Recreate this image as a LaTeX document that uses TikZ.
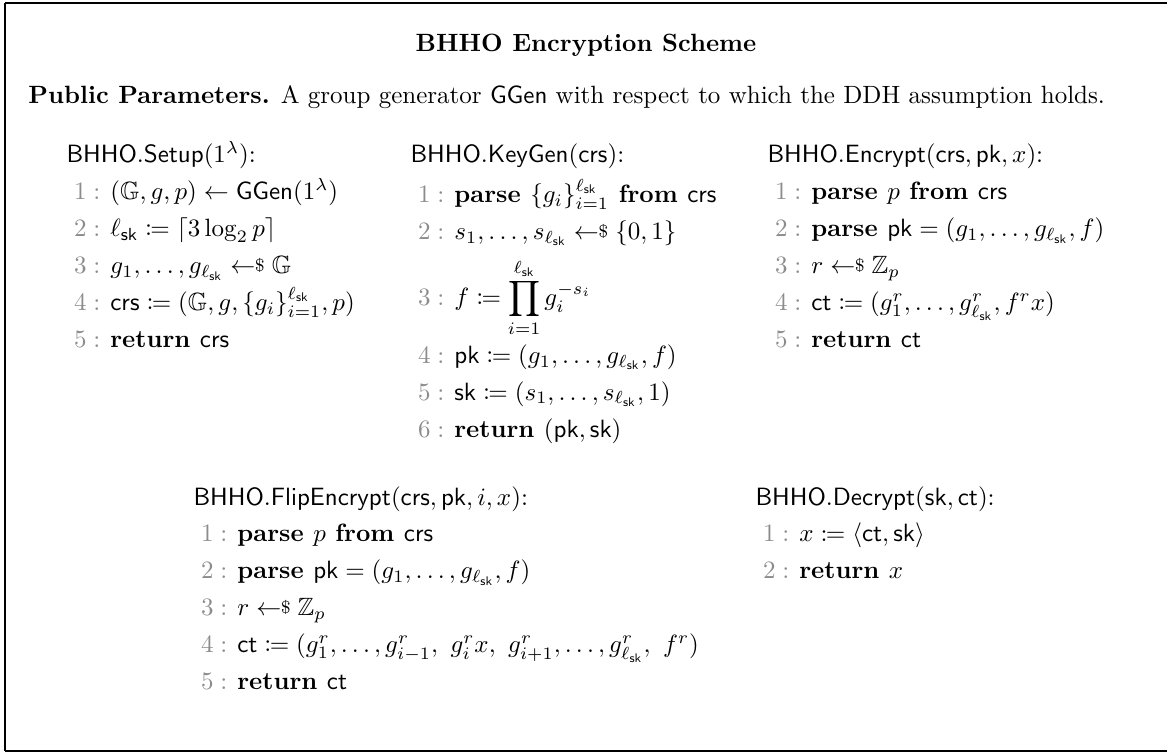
\documentclass[tikz,border=0pt]{standalone}
\usepackage{amsmath, amssymb, amstext}
\usepackage{mathtools}
\usepackage{xcolor}
\usepackage{tikz}

\newcommand{\samp}{\mathrel{\leftarrow\hspace*{-3pt}\raisebox{.75pt}{$\scriptstyle\$$}}}
\newcommand{\lnum}[1]{\hspace{3pt}\textcolor{black!45}{$#1:$}\hspace{4pt}}
\newcommand{\lsk}{\ell_{\mathsf{sk}}}
\renewcommand{\arraystretch}{1.23}

\begin{document}
\begin{tikzpicture}[x=0.4pt,y=-0.4pt,
  algo/.style={anchor=base west, inner sep=0pt},
  frame/.style={draw=black, line width=0.8pt}]

\useasboundingbox (0,0) rectangle (1167,752);

%% frame
\draw[frame] (5,3.5) -- (1190,3.5);
\draw[frame] (5,3.5) -- (5,751);
\draw[frame] (5,751) -- (1190,751);

%% heading
\node[anchor=base, inner sep=0pt, font=\bfseries] (title) at (586,52) {BHHO Encryption Scheme};
\node[algo] (params) at (28,104) {\textbf{Public Parameters.} A group generator $\mathsf{GGen}$ with respect to which the DDH assumption holds.};

%% first row

\node[algo] (setup) at (66,163) {\begin{tabular}[t]{@{}l@{}}
$\mathsf{BHHO.Setup}(1^\lambda)$:\\
\lnum{1}$(\mathbb{G}, g, p) \leftarrow \mathsf{GGen}(1^\lambda)$\\
\lnum{2}$\lsk \coloneqq \lceil 3\log_2 p\rceil$\\
\lnum{3}$g_1, \ldots, g_{\lsk} \samp \mathbb{G}$\\
\lnum{4}$\mathsf{crs} \coloneqq (\mathbb{G}, g, \{g_i\}_{i=1}^{\lsk}, p)$\\
\lnum{5}$\textbf{return } \mathsf{crs}$
\end{tabular}};

\node[algo] (keygen) at (410,163) {\begin{tabular}[t]{@{}l@{}}
$\mathsf{BHHO.KeyGen}(\mathsf{crs})$:\\[1pt]
\lnum{1}$\textbf{parse } \{g_i\}_{i=1}^{\lsk} \textbf{ from } \mathsf{crs}$\\
\lnum{2}$s_1, \ldots, s_{\lsk} \samp \{0,1\}$\\[3.5pt]
\lnum{3}$f \coloneqq \displaystyle\prod_{i=1}^{\lsk} g_i^{-s_i}$\\[2pt]
\lnum{4}$\mathsf{pk} \coloneqq (g_1, \ldots, g_{\lsk}, f)$\\
\lnum{5}$\mathsf{sk} \coloneqq (s_1, \ldots, s_{\lsk}, 1)$\\
\lnum{6}$\textbf{return } (\mathsf{pk}, \mathsf{sk})$
\end{tabular}};

\node[algo] (encrypt) at (767,163) {\begin{tabular}[t]{@{}l@{}}
$\mathsf{BHHO.Encrypt}(\mathsf{crs}, \mathsf{pk}, x)$:\\
\lnum{1}$\textbf{parse } p \textbf{ from } \mathsf{crs}$\\
\lnum{2}$\textbf{parse } \mathsf{pk} = (g_1, \ldots, g_{\lsk}, f)$\\
\lnum{3}$r \samp \mathbb{Z}_p$\\
\lnum{4}$\mathsf{ct} \coloneqq (g_1^r, \ldots, g_{\lsk}^r, f^r x)$\\
\lnum{5}$\textbf{return } \mathsf{ct}$
\end{tabular}};

%% second row

\node[algo] (flip) at (193,505) {\begin{tabular}[t]{@{}l@{}}
$\mathsf{BHHO.FlipEncrypt}(\mathsf{crs}, \mathsf{pk}, i, x)$:\\
\lnum{1}$\textbf{parse } p \textbf{ from } \mathsf{crs}$\\
\lnum{2}$\textbf{parse } \mathsf{pk} = (g_1, \ldots, g_{\lsk}, f)$\\
\lnum{3}$r \samp \mathbb{Z}_p$\\
\lnum{4}$\mathsf{ct} \coloneqq (g_1^r, \ldots, g_{i-1}^r,\ g_i^r x,\ g_{i+1}^r, \ldots, g_{\lsk}^r,\ f^r)$\\
\lnum{5}$\textbf{return } \mathsf{ct}$
\end{tabular}};

\node[algo] (decrypt) at (755,505) {\begin{tabular}[t]{@{}l@{}}
$\mathsf{BHHO.Decrypt}(\mathsf{sk}, \mathsf{ct})$:\\
\lnum{1}$x \coloneqq \langle \mathsf{ct}, \mathsf{sk} \rangle$\\
\lnum{2}$\textbf{return } x$
\end{tabular}};

\end{tikzpicture}
\end{document}
